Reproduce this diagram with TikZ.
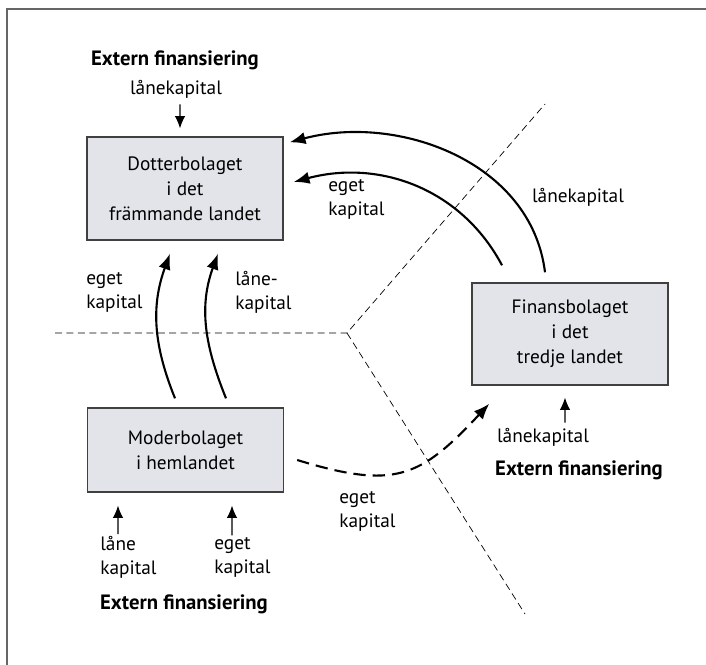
\documentclass[tikz,border=0pt]{standalone}
\usepackage{fontspec}
\setmainfont{PT Sans}
\usetikzlibrary{arrows.meta}
\definecolor{boxgrey}{RGB}{226,228,233}

\begin{document}
\begin{tikzpicture}[x=0.02cm,y=-0.02cm,
  company/.style={draw=black!75, line width=0.8pt, fill=boxgrey, align=center, minimum width=3.92cm, font=\fontsize{11}{14.2}\selectfont},
  lbl/.style={inner sep=0pt, align=left, font=\fontsize{11}{13.6}\selectfont},
  ext/.style={inner sep=0pt, font=\fontsize{11.8}{13.6}\selectfont\bfseries},
  flow/.style={line width=1.2pt, -{Latex[length=9pt,width=7pt]}},
  inarrow/.style={line width=0.6pt, -{Latex[length=7pt,width=6pt]}},
  border/.style={draw=black!60, line width=0.6pt},
  sep/.style={dash pattern=on 4pt off 2.5pt, line width=0.4pt}]
\useasboundingbox (0,0) rectangle (706,665);
\draw[border] (706,9) -- (7,9) -- (7,665);

\node[company, minimum height=2.06cm] (dotter) at (185,188.5) {Dotterbolaget\\i det\\främmande landet};
\node[company, minimum height=2.04cm] (finans) at (570,334) {Finansbolaget\\i det\\tredje landet};
\node[company, minimum height=1.68cm] (moder) at (185.5,450) {Moderbolaget\\i hemlandet};

\coordinate (hub) at (347,333);
\draw[sep] (55,333) -- (hub) -- (545,104);
\draw[sep] (hub) -- (525,614);

\draw[flow] ([shift={(-0.5cm,0.2cm)}]finans.north) to[out=97,in=15] ([shift={(0.12cm,-0.12cm)}]dotter.north east);
\draw[flow] ([shift={(-1.36cm,0.34cm)}]finans.north) to[out=118,in=15] ([shift={(0.2cm,0.13cm)}]dotter.east);
\draw[flow] ([shift={(-0.21cm,0.18cm)}]moder.north) to[out=112,in=250] ([shift={(-0.3cm,-0.26cm)}]dotter.south);
\draw[flow] ([shift={(0.81cm,0.18cm)}]moder.north) to[out=112,in=250] ([shift={(0.66cm,-0.26cm)}]dotter.south);
\draw[flow, dash pattern=on 7pt off 4pt] ([shift={(0.26cm,-0.2cm)}]moder.east) to[out=-17,in=227,looseness=1.3] ([shift={(0.36cm,-0.36cm)}]finans.south west);

\node[lbl, anchor=west] (egetA) at (328,199) {eget\\kapital};
\node[lbl] (lanA) at (578,197) {lånekapital};
\node[lbl, anchor=west] (egetU) at (86,292) {eget\\kapital};
\node[lbl, anchor=west] (lanU) at (235,292) {låne-\\kapital};
\node[lbl, anchor=west] (egetF) at (339,511) {eget\\kapital};

\node[ext] (extD) at (175,60) {Extern finansiering};
\node[lbl] (lanD) at (176,89) {lånekapital};
\draw[inarrow, shorten <=0.12cm, shorten >=0.16cm] ([xshift=0.08cm]lanD.south) -- ([xshift=-0.1cm]dotter.north);

\node[lbl] (lanF) at (543,437) {lånekapital};
\node[ext] (extF) at (579,470) {Extern finansiering};
\draw[inarrow, shorten <=0.1cm, shorten >=0.24cm] ([xshift=0.44cm]lanF.north) -- ([xshift=-0.1cm]finans.south);

\node[lbl, anchor=west] (lanM) at (100,557) {låne\\kapital};
\node[lbl, anchor=west] (egetM) at (214,557) {eget\\kapital};
\node[ext] (extM) at (184,604) {Extern finansiering};
\draw[inarrow, shorten <=0.03cm, shorten >=0.26cm] ([xshift=0.36cm]lanM.north west) -- ([xshift=-1.35cm]moder.south);
\draw[inarrow, shorten <=0.03cm, shorten >=0.26cm] ([xshift=0.36cm]egetM.north west) -- ([xshift=0.93cm]moder.south);
\end{tikzpicture}
\end{document}
